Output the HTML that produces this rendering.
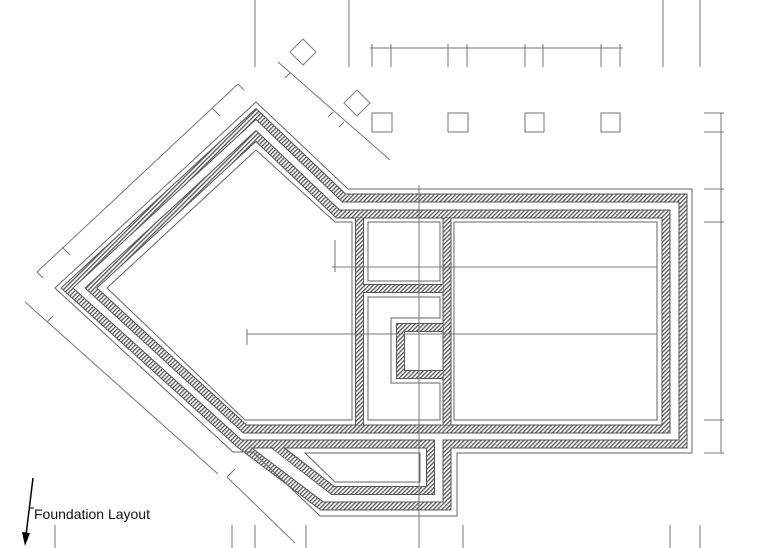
<!DOCTYPE html>
<html><head><meta charset="utf-8"><style>
html,body{margin:0;padding:0;background:#fff;width:767px;height:548px;overflow:hidden}
svg{display:block}
</style></head><body>
<svg width="767" height="548" viewBox="0 0 767 548" xmlns="http://www.w3.org/2000/svg">
<defs>
<pattern id="h" patternUnits="userSpaceOnUse" width="3" height="3" patternTransform="rotate(45)">
<rect width="3" height="3" fill="#fff"/><rect width="1.3" height="3" fill="#555"/>
</pattern>
</defs>
<g fill="none" stroke-linejoin="miter" stroke-miterlimit="10">
<g stroke="#555" stroke-width="9">
 <path d="M256,114 L344,198 L683,198 L683,444 L447,444 L447,506 L322,506 L240,444 L67,288 Z"/>
 <path d="M256,136 L338,214 L666,214 L666,429 L245,429 L91,288 Z"/>
 <path d="M240,444 L430.5,444 L430.5,490.5 L333,490.5 L273,444"/>
 <path d="M359.5,214 V429 M447,214 V429 M359.5,288.5 H447 M447,327.5 H400.5 V374.5 H447"/>
</g>
<g stroke="url(#h)" stroke-width="7">
 <path d="M256,114 L344,198 L683,198 L683,444 L447,444 L447,506 L322,506 L240,444 L67,288 Z"/>
 <path d="M256,136 L338,214 L666,214 L666,429 L245,429 L91,288 Z"/>
 <path d="M240,444 L430.5,444 L430.5,490.5 L333,490.5 L275,446"/>
 <path d="M359.5,218 V425 M447,218 V425 M363,288.5 H443 M443,327.5 H400.5 V374.5 H443"/>
</g>
<g stroke="#666" stroke-width="1">
 <path d="M256,102 L348,189 L692,189 L692,453 L457,453 L457,516 L320,516 L253,452 L233,452 L55,288 Z"/>
 <path d="M256,150 L335,222 L352,222 L352,420 L245,420 L107,288 Z"/>
 <rect x="454" y="222" width="203" height="198"/>
 <rect x="368" y="222" width="72" height="59"/>
 <path d="M368,297 H440 V318 H391 V383 H440 V420 H368 Z"/>
 <path d="M305,453 H420 V482 H335 Z"/>
</g>
<g stroke="#777" stroke-width="1">
 <path d="M419,185 V532"/>
 <path d="M332,267 H657 M335,240 V272"/>
 <path d="M247,334 H657 M247,329 V345"/>
 <path d="M721,113 V453 M704,113 H724 M704,132 H724 M704,189 H724 M704,222 H724 M704,420 H724 M704,453 H724"/>
 <path d="M255,0 V67 M349,0 V67 M663,0 V67 M700,0 V67"/>
 <path d="M370,48 H623 M372,44 V67 M391,44 V67 M448,44 V67 M467,44 V67 M525,44 V67 M543,44 V67 M601,44 V67 M620,44 V67"/>
 <path d="M238,84 L37,272 M212,108 l8,8 M62,247 l8,8 M238,84 l6,6 M37,272 l6,6"/>
 <path d="M278,62 L390,160 M290,73 l-5,5 M333,112 l-5,5 M344,122 l-5,5"/>
 <path d="M25,302 L218,474 M47,322 l6,-6"/>
 <path d="M227,477 L295,543 M227,477 l8,-8"/>
 <path d="M55,525 V548 M232,525 V548 M255,525 V548 M306,525 V548 M419,525 V548 M463,525 V548 M670,525 V548 M700,525 V548"/>
</g>
<g stroke="#888" stroke-width="1.2">
 <rect x="372" y="113" width="20" height="19"/>
 <rect x="448" y="113" width="20" height="19"/>
 <rect x="525" y="113" width="19" height="19"/>
 <rect x="601" y="113" width="19" height="19"/>
 <path d="M303,39 L316,52 L303,65 L290,52 Z"/>
 <path d="M357,90 L370,103 L357,116 L344,103 Z"/>
</g>
<path d="M33,478 L26,535" stroke="#000" stroke-width="1.5"/>
<path d="M22,532 L25,546 L30,533 Z" fill="#000"/>
<path d="M29,508 H34" stroke="#000" stroke-width="1"/>
</g>
<text x="34" y="519" font-family="Liberation Sans, sans-serif" font-size="14" fill="#111">Foundation Layout</text>
</svg>
</body></html>
